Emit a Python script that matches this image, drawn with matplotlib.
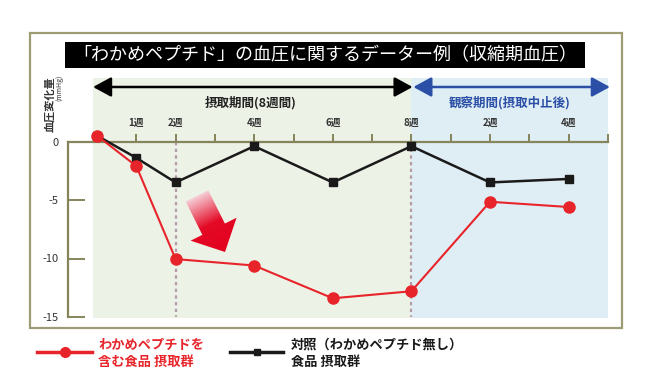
import numpy as np
import matplotlib
matplotlib.use("Agg")
import matplotlib.pyplot as plt
from matplotlib.patches import Rectangle, Polygon, FancyArrowPatch
from matplotlib.colors import LinearSegmentedColormap

plt.rcParams['font.family'] = ['Noto Sans CJK JP', 'DejaVu Sans']

# data: weeks from start (post-intake weeks shifted by 8)
weeks = [0, 1, 2, 4, 6, 8, 10, 12]
wakame = [0.5, -2.1, -10.05, -10.6, -13.4, -12.8, -5.15, -5.6]
control = [0.5, -1.4, -3.5, -0.4, -3.5, -0.4, -3.5, -3.2]
tick_pos = [1, 2, 4, 6, 8, 10, 12]
tick_lab = ["1週", "2週", "4週", "6週", "8週", "2週", "4週"]
minor_pos = [3, 5, 7, 9, 11, 13]
yticks = [0, -5, -10, -15]

W, H = 650, 378
fig = plt.figure(figsize=(6.5, 3.78), dpi=100)
fig.patch.set_facecolor("white")

# background layer (pixel coordinates)
bg = fig.add_axes([0, 0, 1, 1], zorder=0)
bg.set_xlim(0, W)
bg.set_ylim(H, 0)
bg.axis("off")
bg.add_patch(Rectangle((30, 33), 592, 295, facecolor="white",
                       edgecolor="#9d9c74", linewidth=1.6))

# data axes
px0, px1, py0, py1 = 68, 610, 78, 318
x0pix, xstep = 97, 39.3
y0pix, ystep = 141.5, 11.7
ax = fig.add_axes([px0 / W, 1 - py1 / H, (px1 - px0) / W, (py1 - py0) / H],
                  zorder=1)
ax.patch.set_alpha(0)
ax.set_xlim((px0 - x0pix) / xstep, (px1 - x0pix) / xstep)
ax.set_ylim((y0pix - py1) / ystep, (y0pix - py0) / ystep)

ax.axvspan(-0.1, 8, color="#edf2e7", zorder=0, lw=0)
ax.axvspan(8, 13.0, color="#dfeef4", zorder=0, lw=0)

axis_col = "#86845a"
for s in ["bottom", "right"]:
    ax.spines[s].set_visible(False)
ax.spines["top"].set_position(("data", 0))
ax.spines["top"].set_bounds(ax.get_xlim()[0], 13)
ax.spines["left"].set_bounds(-15, 0)
ax.spines["top"].set_color(axis_col)
ax.spines["left"].set_color(axis_col)
ax.spines["top"].set_linewidth(1.6)
ax.spines["left"].set_linewidth(1.6)

ax.xaxis.tick_top()
ax.set_xticks(tick_pos)
ax.set_xticklabels(tick_lab, fontsize=7, color="#333333", fontweight="bold")
ax.set_xticks(minor_pos, minor=True)
ax.tick_params(axis="x", which="both", direction="out", length=6, width=1.4,
               color=axis_col, pad=4)
ax.set_yticks(yticks)
ax.set_yticklabels([str(v) for v in yticks], fontsize=8, color="#333333")
ax.tick_params(axis="y", direction="in", length=12, width=1.4,
               color=axis_col, pad=7)

for xv in [2, 8]:
    ax.plot([xv, xv], [0, -15], color="#b39ba9", linestyle=(0, (1.5, 1.5)),
            linewidth=1.6, zorder=1)

ax.plot(weeks, control, color="#1a1a1a", lw=1.8, marker="s", ms=6,
        zorder=3, clip_on=False)
ax.plot(weeks, wakame, color="#e8242b", lw=1.5, marker="o", ms=8,
        zorder=4, clip_on=False)

# period arrows
arr_y = (y0pix - 87) / ystep
for a, b, c in [(-0.1, 8.03, "black"), (8.05, 13.05, "#2b4fa6")]:
    ax.add_patch(FancyArrowPatch((a, arr_y), (b, arr_y),
                                 arrowstyle="<|-|>,head_length=11,head_width=6",
                                 color=c, lw=1.8, shrinkA=0, shrinkB=0,
                                 mutation_scale=1, clip_on=False, zorder=5))
lab_y = (y0pix - 103) / ystep
ax.text(3.9, lab_y, "摂取期間(8週間)", ha="center", va="center",
        fontsize=9, fontweight="bold", color="#222222")
ax.text(10.5, lab_y, "観察期間(摂取中止後)", ha="center", va="center",
        fontsize=9, fontweight="bold", color="#2b4fa6")

# foreground layer
fg = fig.add_axes([0, 0, 1, 1], zorder=2)
fg.set_xlim(0, W)
fg.set_ylim(H, 0)
fg.axis("off")
fg.patch.set_alpha(0)

fg.add_patch(Rectangle((65, 42), 520, 26, facecolor="black", edgecolor="none"))
fg.text(325, 55.5, "「わかめペプチド」の血圧に関するデーター例（収縮期血圧）",
        ha="center", va="center", color="white", fontsize=13)

fg.text(49.5, 104, "血圧変化量", rotation=90, ha="center", va="center",
        fontsize=8, fontweight="bold", color="#333333")
fg.text(59.5, 88, "(mmHg)", rotation=90, ha="center", va="center",
        fontsize=5, color="#333333")

# gradient arrow
T = np.array([197.0, 196.0])
P = np.array([225.0, 252.0])
u = (P - T) / np.linalg.norm(P - T)
n = np.array([-u[1], u[0]])
B = P - u * 25.5
pts = [T + n * 12.6, B + n * 12.6, B + n * 25.7, P,
       B - n * 25.7, B - n * 12.6, T - n * 12.6]
poly = Polygon(pts, closed=True, facecolor="none", edgecolor="none")
fg.add_patch(poly)
xs = np.linspace(180, 245, 140)
ys = np.linspace(180, 258, 160)
XX, YY = np.meshgrid(xs, ys)
S = ((XX - T[0]) * u[0] + (YY - T[1]) * u[1]) / np.linalg.norm(P - T)
cmap = LinearSegmentedColormap.from_list(
    "g", [(0, "#f6cdd5"), (0.5, "#e40a26"), (1, "#e2001d")])
im = fg.imshow(S, cmap=cmap, vmin=0, vmax=1, extent=(180, 245, 258, 180),
               origin="upper", aspect="auto", interpolation="bilinear")
im.set_clip_path(poly)
fg.set_xlim(0, W)
fg.set_ylim(H, 0)

# legend
fg.plot([37, 92], [352, 352], color="#e8242b", lw=2.5)
fg.plot([64.5], [352], color="#e8242b", marker="o", ms=7)
fg.text(98, 345, "わかめペプチドを", ha="left", va="center", fontsize=9.5,
        fontweight="bold", color="#e8242b")
fg.text(98, 362, "含む食品 摂取群", ha="left", va="center", fontsize=9.5,
        fontweight="bold", color="#e8242b")
fg.plot([230, 283], [352, 352], color="#1a1a1a", lw=2.5)
fg.plot([257], [352], color="#1a1a1a", marker="s", ms=5)
fg.text(291, 345, "対照（わかめペプチド無し）", ha="left", va="center",
        fontsize=9.5, fontweight="bold", color="#1a1a1a")
fg.text(291, 362, "食品 摂取群", ha="left", va="center", fontsize=9.5,
        fontweight="bold", color="#1a1a1a")

fig.savefig("out.png", dpi=100, facecolor="white")
